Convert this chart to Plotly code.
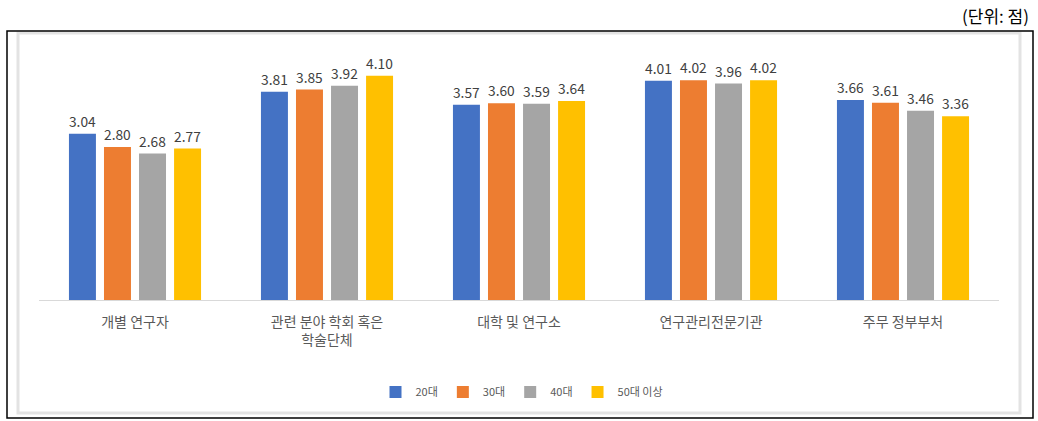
import plotly.graph_objects as go

categories = ["개별 연구자", "관련 분야 학회 혹은<br>학술단체", "대학 및 연구소", "연구관리전문기관", "주무 정부부처"]
series_names = ["20대", "30대", "40대", "50대 이상"]
v20 = [3.04, 3.81, 3.57, 4.01, 3.66]
v30 = [2.80, 3.85, 3.60, 4.02, 3.61]
v40 = [2.68, 3.92, 3.59, 3.96, 3.46]
v50 = [2.77, 4.10, 3.64, 4.02, 3.36]
colors = ["#4472C4", "#ED7D31", "#A5A5A5", "#FFC000"]

W, H = 1038, 421
L, R, T, B = 39, 39, 54, 121
pw, ph = W - L - R, H - T - B

def px(x):
    return (x - L) / pw

def py(y):
    return (H - B - y) / ph

FONT = "Noto Sans CJK KR, Malgun Gothic, sans-serif"

fig = go.Figure()
for name, vals, col in zip(series_names, [v20, v30, v40, v50], colors):
    fig.add_trace(go.Bar(
        x=categories, y=vals, name=name,
        marker=dict(color=col, line=dict(width=0)),
        text=[f"{v:.2f}" for v in vals], textposition="outside",
        textfont=dict(size=14, color="#404040", family=FONT),
        cliponaxis=False,
    ))

fig.update_layout(
    width=W, height=H,
    margin=dict(l=L, r=R, t=T, b=B, pad=0),
    paper_bgcolor="white", plot_bgcolor="white",
    barmode="group", bargap=0.27, bargroupgap=0.23,
    font=dict(family=FONT, color="#595959"),
    showlegend=True,
    legend=dict(orientation="h", x=px(522), xanchor="center", y=py(392), yanchor="middle",
                font=dict(size=11, color="#595959"), bgcolor="rgba(0,0,0,0)",
                itemwidth=30, traceorder="normal", tracegroupgap=0),
    xaxis=dict(showline=True, linecolor="#D9D9D9", linewidth=1, ticks="",
               tickfont=dict(size=14, color="#595959"), showgrid=False, fixedrange=True,
               ticklabelstandoff=9),
    yaxis=dict(range=[0, 4.5], visible=False, showgrid=False, fixedrange=True),
    shapes=[
        dict(type="rect", xref="paper", yref="paper",
             x0=px(18), x1=px(1020), y0=py(413), y1=py(33),
             line=dict(color="#E3E3E3", width=3), layer="below"),
        dict(type="rect", xref="paper", yref="paper",
             x0=px(7), x1=px(1033), y0=py(418), y1=py(31),
             line=dict(color="black", width=1.5), layer="above"),
    ],
    annotations=[
        dict(text="(단위: 점)", xref="paper", yref="paper", x=px(1031), y=py(15),
             xanchor="right", yanchor="middle", showarrow=False,
             font=dict(size=17, color="black", family=FONT)),
    ],
)

fig.write_html("out.html", config={"displayModeBar": False},
               post_script="document.body.style.margin='0';document.body.style.overflow='hidden';")
